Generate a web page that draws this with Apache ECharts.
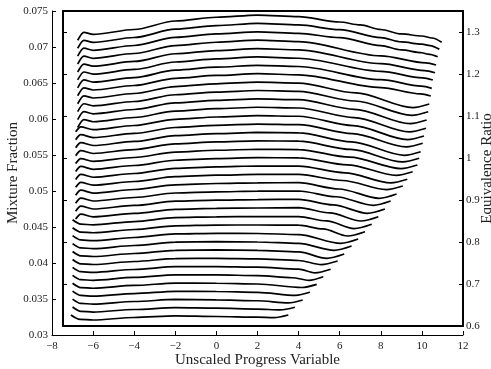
<!DOCTYPE html>
<html>
<head>
<meta charset="utf-8">
<script src="https://cdn.jsdelivr.net/npm/echarts@6/dist/echarts.min.js"></script>
<style>
  html, body { margin: 0; padding: 0; background: #fff; }
  #chart { width: 491px; height: 369px; }
</style>
</head>
<body>
<div id="chart"></div>
<script>
// each curve: [progress variable, mixture fraction], top curve first
const curve01 = [[-6.75,0.07094],[-6.45,0.07204],[-6,0.07174],[-4,0.07243],[-2,0.07361],[0,0.07413],[2,0.07444],[4,0.07421],[6,0.07347],[7,0.07306],[8,0.07243],[9,0.07181],[10,0.07153],[10.5,0.07125],[10.96,0.07065]];
const curve02 = [[-6.75,0.06983],[-6.45,0.07093],[-6,0.07063],[-4,0.07132],[-2,0.07247],[0,0.07297],[2,0.07328],[4,0.07306],[6,0.0724],[8,0.0713],[9,0.0707],[10,0.0704],[10.4,0.0702],[10.85,0.06968]];
const curve03 = [[-6.75,0.06873],[-6.45,0.06983],[-6,0.06953],[-4,0.07021],[-2,0.07134],[0,0.07182],[2,0.07211],[4,0.0719],[6,0.0713],[8,0.0702],[9,0.0696],[10,0.0692],[10.3,0.0690],[10.77,0.06865]];
const curve04 = [[-6.75,0.06763],[-6.45,0.06873],[-6,0.06843],[-4,0.0691],[-2,0.0702],[0,0.07066],[2,0.07095],[4,0.07075],[8,0.06877],[10.19,0.0678],[10.69,0.0675]];
const curve05 = [[-6.75,0.06653],[-6.45,0.06763],[-6,0.06733],[-4,0.06799],[-2,0.06906],[0,0.06951],[2,0.06978],[4,0.0696],[8,0.06768],[10.14,0.06673],[10.64,0.06643]];
const curve06 = [[-6.75,0.06543],[-6.45,0.06653],[-6,0.06623],[-4,0.06688],[-2,0.06792],[0,0.06835],[2,0.06862],[4,0.06844],[8,0.06662],[10.03,0.06572],[10.53,0.06542]];
const curve07 = [[-6.75,0.06433],[-6.45,0.06543],[-6,0.06513],[-4,0.06576],[-2,0.06679],[0,0.0672],[2,0.06745],[4,0.06729],[8,0.06546],[9.98,0.06456],[10.48,0.06426]];
const curve08 = [[-6.75,0.06323],[-6.45,0.06433],[-6,0.06403],[-4,0.06465],[-2,0.06565],[0,0.06605],[2,0.06629],[4,0.06614],[8,0.06436],[9.93,0.06349],[10.43,0.06319]];
const curve09 = [[-6.75,0.06212],[-6.45,0.06322],[-6,0.06292],[-4,0.06354],[-2,0.06451],[0,0.06489],[2,0.06512],[4,0.06499],[6.78,0.06363],[9.56,0.06158],[10.36,0.06208]];
const curve10 = [[-6.75,0.06102],[-6.45,0.06212],[-6,0.06182],[-4,0.06243],[-2,0.06337],[0,0.06374],[2,0.06396],[4,0.06383],[6.76,0.0625],[9.51,0.06051],[10.31,0.06101]];
const curve11 = [[-6.75,0.05992],[-6.45,0.06102],[-6,0.06072],[-4,0.06132],[-2,0.06224],[0,0.06258],[2,0.06279],[4,0.06268],[6.72,0.06135],[9.43,0.05936],[10.23,0.05986]];
const curve12 = [[-6.75,0.05882],[-6.45,0.05992],[-6,0.05962],[-4,0.06021],[-2,0.0611],[0,0.06143],[2,0.06163],[4,0.06153],[6.7,0.0602],[9.4,0.05821],[10.2,0.05871]];
const curve13 = [[-6.85,0.05822],[-6.6,0.05892],[-6,0.05852],[-4,0.0591],[-2,0.05996],[0,0.06028],[2,0.06046],[4,0.06038],[6.65,0.05908],[9.3,0.05714],[10.1,0.05764]];
const curve14 = [[-6.85,0.05712],[-6.6,0.05782],[-6,0.05742],[-4,0.05799],[-2,0.05882],[0,0.05912],[2,0.0593],[4,0.05922],[6.62,0.05798],[9.24,0.05613],[10.04,0.05663]];
const curve15 = [[-6.85,0.05602],[-6.6,0.05672],[-6,0.05632],[-4,0.05688],[-2,0.05769],[0,0.05797],[2,0.05813],[4,0.05807],[6.57,0.05683],[9.14,0.05496],[9.94,0.05546]];
const curve16 = [[-6.85,0.05491],[-6.6,0.05561],[-6,0.05521],[-4,0.05576],[-2,0.05655],[0,0.05681],[2,0.05697],[4,0.05692],[6.54,0.05577],[9.07,0.05404],[9.87,0.05454]];
const curve17 = [[-6.85,0.05381],[-6.6,0.05451],[-6,0.05411],[-4,0.05465],[-2,0.05541],[0,0.05566],[2,0.0558],[4,0.05576],[6.49,0.0547],[8.98,0.05311],[9.78,0.05361]];
const curve18 = [[-6.85,0.05271],[-6.6,0.05341],[-6,0.05301],[-4,0.05354],[-2,0.05427],[0,0.0545],[2,0.05463],[4,0.05461],[6.38,0.05364],[8.75,0.05218],[9.55,0.05268]];
const curve19 = [[-6.85,0.05161],[-6.6,0.05231],[-6,0.05191],[-4,0.05243],[-2,0.05314],[0,0.05335],[2,0.05347],[4,0.05346],[6.25,0.05253],[8.49,0.05113],[9.29,0.05163]];
const curve20 = [[-6.85,0.05051],[-6.6,0.05121],[-6,0.05081],[-4,0.05132],[-2,0.052],[0,0.0522],[2,0.0523],[4,0.0523],[6.14,0.05146],[8.27,0.05019],[9.07,0.05069]];
const curve21 = [[-6.85,0.04941],[-6.6,0.05011],[-6,0.04971],[-4,0.05021],[-2,0.05086],[0,0.05104],[2,0.05114],[4,0.05115],[5.96,0.05028],[7.92,0.04898],[8.77,0.04958]];
const curve22 = [[-6.85,0.04831],[-6.6,0.04901],[-6,0.04861],[-4,0.0491],[-2,0.04972],[0,0.04989],[2,0.04997],[4,0.05],[5.82,0.0492],[7.63,0.04801],[8.48,0.04861]];
const curve23 = [[-6.85,0.0472],[-6.6,0.0479],[-6,0.0475],[-4,0.04799],[-2,0.04859],[0,0.04873],[2,0.04881],[4,0.04885],[5.68,0.04807],[7.35,0.0469],[8.2,0.0475]];
const curve24 = [[-6.85,0.0461],[-6.6,0.0468],[-6,0.0464],[-4,0.04688],[-2,0.04745],[0,0.04758],[2,0.04764],[4,0.04769],[5.52,0.04695],[7.03,0.04583],[7.88,0.04643]];
const curve25 = [[-7.0,0.046],[-6.6,0.0454],[-6,0.0453],[-4,0.04576],[-2,0.04631],[0,0.04642],[2,0.04645],[4,0.04645],[5.36,0.04584],[6.71,0.04478],[7.56,0.04538]];
const curve26 = [[-7.0,0.0449],[-6.6,0.0443],[-6,0.0442],[-4,0.04465],[-2,0.04517],[0,0.04527],[2,0.04528],[4,0.04525],[5.19,0.04473],[6.38,0.04375],[7.23,0.04435]];
const curve27 = [[-7.0,0.0438],[-6.6,0.0432],[-6,0.0431],[-4,0.04354],[-2,0.04404],[0,0.04412],[2,0.0441],[4,0.04395],[6.05,0.04273],[6.9,0.04333]];
const curve28 = [[-7.0,0.0427],[-6.6,0.0421],[-6,0.042],[-4,0.04243],[-2,0.0429],[0,0.04296],[2,0.04292],[4,0.04272],[5.73,0.04176],[6.58,0.04236]];
const curve29 = [[-7.0,0.0416],[-6.6,0.041],[-6,0.0409],[-4,0.04132],[-2,0.04176],[0,0.04181],[2,0.04175],[4,0.04155],[5.37,0.04065],[6.22,0.04125]];
const curve30 = [[-7.0,0.04049],[-6.6,0.03989],[-6,0.03979],[-4,0.04021],[-2,0.04062],[0,0.04065],[2,0.04058],[4,0.04035],[5.1,0.03978],[5.9,0.04028]];
const curve31 = [[-7.0,0.03939],[-6.6,0.03879],[-6,0.03869],[-4,0.0391],[-2,0.03949],[0,0.0395],[2,0.03942],[4,0.03915],[4.8,0.03863],[5.56,0.03913]];
const curve32 = [[-7.0,0.03829],[-6.6,0.03769],[-6,0.03759],[-4,0.03799],[-2,0.03835],[0,0.03835],[2,0.03825],[3.7,0.03795],[4.5,0.0376],[5.2,0.0381]];
const curve33 = [[-7.0,0.03719],[-6.6,0.03659],[-6,0.03649],[-4,0.03688],[-2,0.03721],[0,0.03719],[2,0.03708],[4.15,0.0366],[4.88,0.03704]];
const curve34 = [[-7.0,0.03609],[-6.6,0.03549],[-6,0.03539],[-4,0.03576],[-2,0.03607],[0,0.03604],[2,0.03592],[3.85,0.0355],[4.55,0.03593]];
const curve35 = [[-7.0,0.03499],[-6.6,0.03439],[-6,0.03429],[-4,0.03465],[-2,0.03494],[0,0.03488],[2,0.03476],[3.5,0.03446],[4.2,0.03486]];
const curve36 = [[-7.0,0.03389],[-6.6,0.03329],[-6,0.03319],[-4,0.03354],[-2,0.0338],[0,0.03373],[2,0.0336],[3.1,0.03348],[3.82,0.03385]];
const curve37 = [[-7.08,0.03278],[-6.64,0.03218],[-6,0.03208],[-4,0.03243],[-2,0.03266],[0,0.03257],[2,0.03247],[2.8,0.03242],[3.5,0.03278]];

const curves = [curve01, curve02, curve03, curve04, curve05, curve06, curve07, curve08, curve09, curve10,
  curve11, curve12, curve13, curve14, curve15, curve16, curve17, curve18, curve19, curve20,
  curve21, curve22, curve23, curve24, curve25, curve26, curve27, curve28, curve29, curve30,
  curve31, curve32, curve33, curve34, curve35, curve36, curve37];

const font = 'Liberation Serif';
const ink = '#222';

const chart = echarts.init(document.getElementById('chart'));

// frame lines of the inner box (no ticks, no labels)
const boxAxis = (position) => ({
  gridIndex: 1, type: 'value', min: 0, max: 1, position: position,
  axisLine: { onZero: false, lineStyle: { color: '#000', width: 2 } },
  axisTick: { show: false }, axisLabel: { show: false }, splitLine: { show: false }
});

chart.setOption({
  animation: false,
  backgroundColor: '#fff',
  grid: [
    { left: 52, top: 11, width: 411, height: 324, containLabel: false, outerBoundsMode: 'none' },
    { left: 63, top: 11, width: 400, height: 315, containLabel: false, outerBoundsMode: 'none' }
  ],
  xAxis: [
    {
      gridIndex: 0, type: 'value', min: -8, max: 12, interval: 2, position: 'bottom',
      name: 'Unscaled Progress Variable', nameLocation: 'middle', nameGap: 18, nameMoveOverlap: false,
      nameTextStyle: { fontFamily: font, fontSize: 15, color: ink },
      axisLine: { onZero: false, lineStyle: { color: '#000', width: 1 } },
      axisTick: { inside: true, length: 4, lineStyle: { color: '#000' } },
      axisLabel: {
        fontFamily: font, fontSize: 11, color: ink, margin: 6,
        formatter: v => v < 0 ? '\u2212' + Math.abs(v) : String(v)
      },
      splitLine: { show: false }
    },
    boxAxis('bottom'),
    boxAxis('top')
  ],
  yAxis: [
    {
      gridIndex: 0, type: 'value', min: 0.03, max: 0.075, interval: 0.005, position: 'left',
      name: 'Mixture Fraction', nameLocation: 'middle', nameGap: 31, nameRotate: 90, nameMoveOverlap: false,
      nameTextStyle: { fontFamily: font, fontSize: 15, color: ink },
      axisLine: { show: true, onZero: false, lineStyle: { color: '#000', width: 1 } },
      axisTick: { show: true, inside: true, length: 4, lineStyle: { color: '#000' } },
      axisLabel: {
        fontFamily: font, fontSize: 11, color: ink, margin: 4,
        formatter: v => String(+v.toFixed(3))
      },
      splitLine: { show: false }
    },
    {
      gridIndex: 1, type: 'value', min: 0.6, max: 1.35, interval: 0.1, position: 'right',
      name: 'Equivalence Ratio', nameLocation: 'middle', nameGap: 17, nameRotate: 90, nameMoveOverlap: false,
      nameTextStyle: { fontFamily: font, fontSize: 15, color: ink },
      axisLine: { show: true, onZero: false, lineStyle: { color: '#000', width: 2 } },
      axisTick: { show: true, inside: true, length: 4, lineStyle: { color: '#000' } },
      axisLabel: {
        fontFamily: font, fontSize: 11, color: ink, margin: 3, showMaxLabel: false,
        formatter: v => String(+v.toFixed(1))
      },
      splitLine: { show: false }
    },
    {
      gridIndex: 1, type: 'value', min: 0.6, max: 1.35, interval: 0.1, position: 'left',
      axisLine: { show: true, onZero: false, lineStyle: { color: '#000', width: 2 } },
      axisTick: { show: true, inside: true, length: 4, lineStyle: { color: '#000' } },
      axisLabel: { show: false },
      splitLine: { show: false }
    }
  ],
  series: curves.map(c => ({
    type: 'line',
    xAxisIndex: 0,
    yAxisIndex: 0,
    data: c,
    showSymbol: false,
    smooth: 0.3,
    smoothMonotone: 'x',
    silent: true,
    lineStyle: { color: '#000', width: 1.7 }
  }))
});
</script>
</body>
</html>
